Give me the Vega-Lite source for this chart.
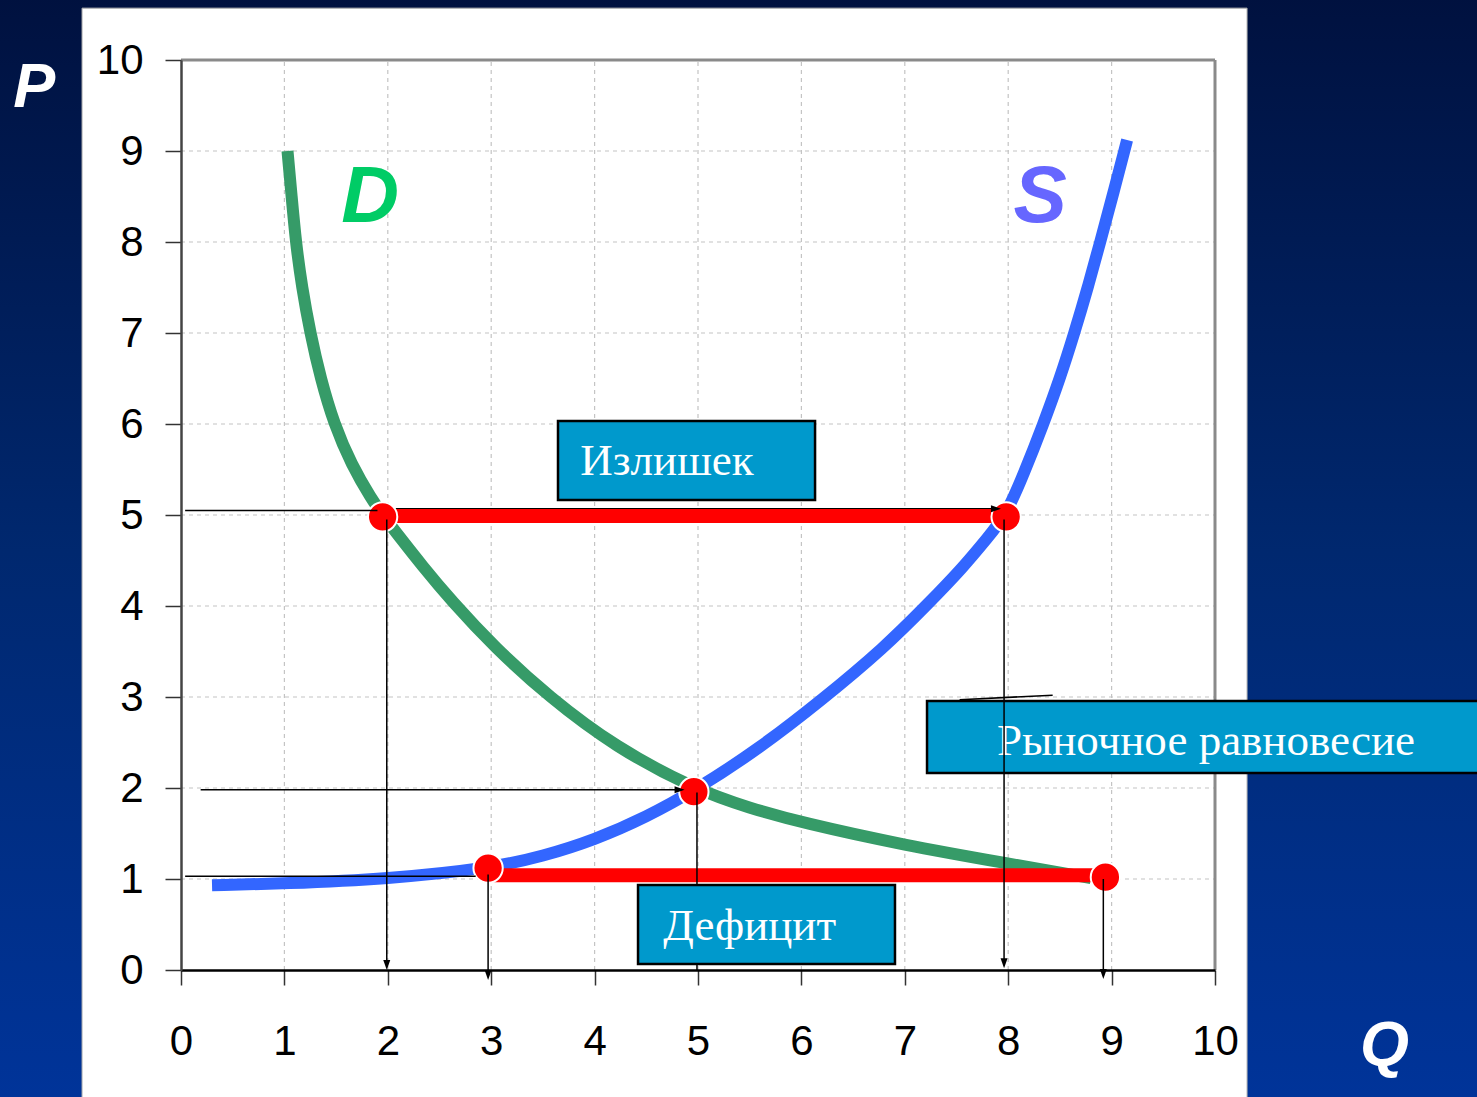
{
  "$schema": "https://vega.github.io/schema/vega-lite/v6.json",
  "width": 1034,
  "height": 910,
  "autosize": {"type": "none"},
  "padding": {"left": 181, "top": 60, "right": 262, "bottom": 127},
  "background": "#002670",
  "config": {"view": {"stroke": null}},
  "datasets": {
    "bg": [{"x": -1.8, "x2": 12.6, "y": -1.5, "y2": 10.7}],
    "panel": [{"x": -0.957, "x2": 10.31, "y": -1.5, "y2": 10.57}],
    "grid": [
      {"x": 1, "x2": 1, "y": 0, "y2": 10}, {"x": 2, "x2": 2, "y": 0, "y2": 10}, {"x": 3, "x2": 3, "y": 0, "y2": 10},
      {"x": 4, "x2": 4, "y": 0, "y2": 10}, {"x": 5, "x2": 5, "y": 0, "y2": 10}, {"x": 6, "x2": 6, "y": 0, "y2": 10},
      {"x": 7, "x2": 7, "y": 0, "y2": 10}, {"x": 8, "x2": 8, "y": 0, "y2": 10}, {"x": 9, "x2": 9, "y": 0, "y2": 10},
      {"x": 0, "x2": 10, "y": 1, "y2": 1}, {"x": 0, "x2": 10, "y": 2, "y2": 2}, {"x": 0, "x2": 10, "y": 3, "y2": 3},
      {"x": 0, "x2": 10, "y": 4, "y2": 4}, {"x": 0, "x2": 10, "y": 5, "y2": 5}, {"x": 0, "x2": 10, "y": 6, "y2": 6},
      {"x": 0, "x2": 10, "y": 7, "y2": 7}, {"x": 0, "x2": 10, "y": 8, "y2": 8}, {"x": 0, "x2": 10, "y": 9, "y2": 9}
    ],
    "frame": [{"x": 0, "x2": 10, "y": 10, "y2": 10}, {"x": 10, "x2": 10, "y": 0, "y2": 10}],
    "demand": [
      {"x": 1.03, "y": 9.0}, {"x": 1.07, "y": 8.5}, {"x": 1.11, "y": 8.0}, {"x": 1.17, "y": 7.5},
      {"x": 1.25, "y": 7.0}, {"x": 1.35, "y": 6.5}, {"x": 1.48, "y": 6.0}, {"x": 1.65, "y": 5.55},
      {"x": 1.84, "y": 5.18}, {"x": 1.97, "y": 4.97}, {"x": 2.12, "y": 4.75}, {"x": 2.32, "y": 4.46},
      {"x": 2.62, "y": 4.05}, {"x": 3.03, "y": 3.55}, {"x": 3.56, "y": 3.0}, {"x": 4.2, "y": 2.45},
      {"x": 4.98, "y": 1.98}, {"x": 5.5, "y": 1.78}, {"x": 6.0, "y": 1.62}, {"x": 7.0, "y": 1.37},
      {"x": 8.0, "y": 1.17}, {"x": 8.8, "y": 1.01}
    ],
    "supply": [
      {"x": 0.3, "y": 0.93}, {"x": 1.0, "y": 0.95}, {"x": 2.0, "y": 1.0}, {"x": 3.0, "y": 1.12},
      {"x": 3.5, "y": 1.25}, {"x": 4.0, "y": 1.43}, {"x": 4.5, "y": 1.68}, {"x": 4.98, "y": 1.98},
      {"x": 5.6, "y": 2.44}, {"x": 6.2, "y": 2.97}, {"x": 6.8, "y": 3.54}, {"x": 7.23, "y": 4.03},
      {"x": 7.56, "y": 4.42}, {"x": 7.8, "y": 4.75}, {"x": 7.98, "y": 5.0}, {"x": 8.15, "y": 5.45},
      {"x": 8.34, "y": 6.0}, {"x": 8.5, "y": 6.5}, {"x": 8.64, "y": 7.0}, {"x": 8.77, "y": 7.5},
      {"x": 8.89, "y": 8.0}, {"x": 9.02, "y": 8.55}, {"x": 9.15, "y": 9.12}
    ],
    "blackUnder": [{"x": 2.0, "x2": 7.9, "y": 5.07, "y2": 5.07}],
    "redLines": [
      {"x": 1.95, "x2": 7.98, "y": 4.99, "y2": 4.99},
      {"x": 2.97, "x2": 8.94, "y": 1.04, "y2": 1.04}
    ],
    "redPoints": [
      {"x": 1.95, "y": 4.98}, {"x": 7.98, "y": 4.98}, {"x": 4.96, "y": 1.96},
      {"x": 2.97, "y": 1.12}, {"x": 8.94, "y": 1.02}
    ],
    "boxR": [{"x": 7.215, "x2": 12.6, "y": 2.165, "y2": 2.956}],
    "boxTextR": [{"x": 9.913, "y": 2.36, "t": "Рыночное равновесие"}],
    "black": [
      {"x": 0.04, "x2": 1.9, "y": 5.05, "y2": 5.05},
      {"x": 1.99, "x2": 1.99, "y": 4.95, "y2": 0.05},
      {"x": 0.19, "x2": 4.84, "y": 1.98, "y2": 1.98},
      {"x": 4.99, "x2": 4.99, "y": 1.95, "y2": 0.0},
      {"x": 0.04, "x2": 2.85, "y": 1.03, "y2": 1.03},
      {"x": 2.97, "x2": 2.97, "y": 1.05, "y2": -0.06},
      {"x": 7.96, "x2": 7.96, "y": 4.95, "y2": 0.07},
      {"x": 8.92, "x2": 8.92, "y": 1.0, "y2": -0.05},
      {"x": 7.53, "x2": 8.43, "y": 2.97, "y2": 3.02}
    ],
    "arrowDown": [
      {"x": 1.99, "y": 0.0}, {"x": 2.97, "y": -0.11}, {"x": 7.96, "y": 0.02}, {"x": 8.92, "y": -0.1}
    ],
    "arrowRight": [{"x": 4.87, "y": 1.98}, {"x": 7.93, "y": 5.07}],
    "boxes": [
      {"x": 3.646, "x2": 6.132, "y": 5.165, "y2": 6.033},
      {"x": 4.42, "x2": 6.905, "y": 0.066, "y2": 0.934}
    ],
    "boxText": [
      {"x": 4.7, "y": 5.44, "t": "Излишек"},
      {"x": 5.5, "y": 0.33, "t": "Дефицит"}
    ],
    "dLabel": [{"x": 1.83, "y": 8.22, "t": "D"}],
    "sLabel": [{"x": 8.31, "y": 8.22, "t": "S"}],
    "pqLabels": [{"x": -1.42, "y": 9.48, "t": "P"}, {"x": 11.64, "y": -1.044, "t": "Q"}]
  },
  "encoding": {
    "x": {
      "field": "x", "type": "quantitative",
      "scale": {"domain": [0, 10], "nice": false, "zero": false},
      "axis": {
        "title": null, "values": [0, 1, 2, 3, 4, 5, 6, 7, 8, 9, 10], "format": "d", "grid": false, "zindex": 1,
        "domainColor": "#000000", "domainWidth": 2.5, "tickColor": "#333333", "tickWidth": 1.5, "tickSize": 15,
        "labelFont": "Liberation Sans", "labelFontSize": 42, "labelColor": "#000000", "labelPadding": 36,
        "labelFlush": false, "labelOverlap": false
      }
    },
    "y": {
      "field": "y", "type": "quantitative",
      "scale": {"domain": [0, 10], "nice": false, "zero": false},
      "axis": {
        "title": null, "values": [0, 1, 2, 3, 4, 5, 6, 7, 8, 9, 10], "format": "d", "grid": false, "zindex": 1,
        "domainColor": "#444444", "domainWidth": 2.5, "tickColor": "#333333", "tickWidth": 1.5, "tickSize": 16,
        "labelFont": "Liberation Sans", "labelFontSize": 42, "labelColor": "#000000", "labelPadding": 22,
        "labelFlush": false, "labelOverlap": false
      }
    }
  },
  "layer": [
    {
      "data": {"name": "bg"},
      "mark": {"type": "rect", "strokeWidth": 0, "fill": {"gradient": "linear", "x1": 0, "y1": 0, "x2": 0, "y2": 1,
        "stops": [{"offset": 0, "color": "#00113f"}, {"offset": 0.5, "color": "#00286f"}, {"offset": 1, "color": "#00349a"}]}},
      "encoding": {"x2": {"field": "x2"}, "y2": {"field": "y2"}}
    },
    {
      "data": {"name": "panel"},
      "mark": {"type": "rect", "fill": "#ffffff", "stroke": "#b0b0b0", "strokeWidth": 1},
      "encoding": {"x2": {"field": "x2"}, "y2": {"field": "y2"}}
    },
    {
      "data": {"name": "grid"},
      "mark": {"type": "rule", "color": "#c4c4c4", "strokeWidth": 1.2, "strokeDash": [4, 4]},
      "encoding": {"x2": {"field": "x2"}, "y2": {"field": "y2"}}
    },
    {
      "data": {"name": "frame"},
      "mark": {"type": "rule", "color": "#8a8a8a", "strokeWidth": 3},
      "encoding": {"x2": {"field": "x2"}, "y2": {"field": "y2"}}
    },
    {
      "data": {"name": "blackUnder"},
      "mark": {"type": "rule", "color": "#000000", "strokeWidth": 1.5},
      "encoding": {"x2": {"field": "x2"}, "y2": {"field": "y2"}}
    },
    {
      "data": {"name": "demand"},
      "mark": {"type": "line", "color": "#369b68", "strokeWidth": 12, "interpolate": "basis", "strokeCap": "butt"}
    },
    {
      "data": {"name": "supply"},
      "mark": {"type": "line", "color": "#3366ff", "strokeWidth": 12, "interpolate": "basis", "strokeCap": "butt"}
    },
    {
      "data": {"name": "redLines"},
      "mark": {"type": "rule", "color": "#ff0000", "strokeWidth": 14},
      "encoding": {"x2": {"field": "x2"}, "y2": {"field": "y2"}}
    },
    {
      "data": {"name": "redPoints"},
      "mark": {"type": "point", "shape": "circle", "filled": true, "fill": "#ff0000", "stroke": "#ffffff", "strokeWidth": 2, "size": 860, "opacity": 1}
    },
    {
      "data": {"name": "boxR"},
      "mark": {"type": "rect", "fill": "#0099cc", "stroke": "#000000", "strokeWidth": 2.5},
      "encoding": {"x2": {"field": "x2"}, "y2": {"field": "y2"}}
    },
    {
      "data": {"name": "boxTextR"},
      "mark": {"type": "text", "font": "Liberation Serif", "fontSize": 45, "color": "#ffffff", "align": "center", "baseline": "alphabetic"},
      "encoding": {"text": {"field": "t"}}
    },
    {
      "data": {"name": "black"},
      "mark": {"type": "rule", "color": "#000000", "strokeWidth": 1.5},
      "encoding": {"x2": {"field": "x2"}, "y2": {"field": "y2"}}
    },
    {
      "data": {"name": "arrowDown"},
      "mark": {"type": "point", "shape": "M0,0L-0.7,-2L0.7,-2Z", "filled": true, "fill": "#000000", "strokeWidth": 0, "size": 100, "opacity": 1}
    },
    {
      "data": {"name": "arrowRight"},
      "mark": {"type": "point", "shape": "M0,0L-2,-0.7L-2,0.7Z", "filled": true, "fill": "#000000", "strokeWidth": 0, "size": 100, "opacity": 1}
    },
    {
      "data": {"name": "boxes"},
      "mark": {"type": "rect", "fill": "#0099cc", "stroke": "#000000", "strokeWidth": 2.5},
      "encoding": {"x2": {"field": "x2"}, "y2": {"field": "y2"}}
    },
    {
      "data": {"name": "boxText"},
      "mark": {"type": "text", "font": "Liberation Serif", "fontSize": 45, "color": "#ffffff", "align": "center", "baseline": "alphabetic"},
      "encoding": {"text": {"field": "t"}}
    },
    {
      "data": {"name": "dLabel"},
      "mark": {"type": "text", "font": "Liberation Sans", "fontSize": 80, "fontWeight": "bold", "fontStyle": "italic", "color": "#00cc66", "align": "center", "baseline": "alphabetic"},
      "encoding": {"text": {"field": "t"}}
    },
    {
      "data": {"name": "sLabel"},
      "mark": {"type": "text", "font": "Liberation Sans", "fontSize": 80, "fontWeight": "bold", "fontStyle": "italic", "color": "#6666ff", "align": "center", "baseline": "alphabetic"},
      "encoding": {"text": {"field": "t"}}
    },
    {
      "data": {"name": "pqLabels"},
      "mark": {"type": "text", "font": "Liberation Sans", "fontSize": 63, "fontWeight": "bold", "fontStyle": "italic", "color": "#ffffff", "align": "center", "baseline": "alphabetic"},
      "encoding": {"text": {"field": "t"}}
    }
  ]
}
